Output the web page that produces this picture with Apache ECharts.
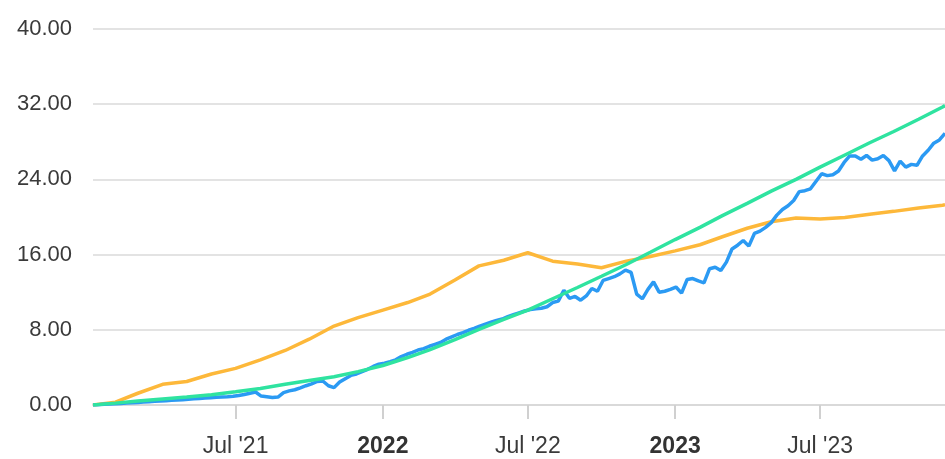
<!DOCTYPE html>
<html>
<head>
<meta charset="utf-8">
<script src="https://cdn.jsdelivr.net/npm/echarts@6/dist/echarts.min.js"></script>
<style>
  html, body { margin: 0; padding: 0; background: #fff; }
  #chart { width: 945px; height: 459px; }
</style>
</head>
<body>
<div id="chart"></div>
<script>
// Monthly observation dates for the two smooth series
const monthDates = [
  '2021-01-04', '2021-02-01', '2021-03-01', '2021-04-01', '2021-05-01', '2021-06-01',
  '2021-07-01', '2021-08-01', '2021-09-01', '2021-10-01', '2021-11-01', '2021-12-01',
  '2022-01-01', '2022-02-01', '2022-03-01', '2022-04-01', '2022-05-01', '2022-06-01',
  '2022-07-01', '2022-08-01', '2022-09-01', '2022-10-01', '2022-11-01', '2022-12-01',
  '2023-01-01', '2023-02-01', '2023-03-01', '2023-04-01', '2023-05-01', '2023-06-01',
  '2023-07-01', '2023-08-01', '2023-09-01', '2023-10-01', '2023-11-01', '2023-12-01',
  '2023-12-04'
];

// Orange series (monthly)
const orangeValues = [
  0.00, 0.30, 1.25, 2.20, 2.50, 3.30,
  3.90, 4.80, 5.80, 7.00, 8.40, 9.30,
  10.10, 10.90, 11.80, 13.30, 14.80, 15.40,
  16.20, 15.30, 15.00, 14.60, 15.30, 15.80,
  16.40, 17.05, 17.90, 18.80, 19.50, 19.90,
  19.80, 19.95, 20.30, 20.60, 20.95, 21.25,
  21.30
];

// Green series (monthly)
const greenValues = [
  0.00, 0.20, 0.42, 0.64, 0.85, 1.10,
  1.40, 1.75, 2.20, 2.60, 3.00, 3.55,
  4.20, 5.05, 5.90, 6.95, 8.05, 9.10,
  10.10, 11.30, 12.50, 13.70, 14.95, 16.25,
  17.60, 18.90, 20.15, 21.45, 22.75, 24.00,
  25.30, 26.60, 27.90, 29.10, 30.40, 31.70,
  31.85
];

// Blue series: weekly closes starting Monday 2021-01-04
const blueStart = [2021, 0, 4];
const blueWeekly = [
  0.00, 0.03, 0.07, 0.10, 0.14, 0.16, 0.20, 0.23, 0.27, 0.31,
  0.34, 0.39, 0.42, 0.46, 0.50, 0.53, 0.57, 0.62, 0.66, 0.70,
  0.74, 0.78, 0.82, 0.86, 0.89, 0.93, 1.02, 1.12, 1.25, 1.38,
  0.95, 0.88, 0.80, 0.85, 1.32, 1.50, 1.62, 1.83, 2.05, 2.25,
  2.50, 2.55, 2.05, 1.85, 2.45, 2.80, 3.15, 3.30, 3.55, 3.80,
  4.10, 4.35, 4.45, 4.60, 4.80, 5.15, 5.40, 5.60, 5.85, 6.00,
  6.25, 6.45, 6.65, 7.00, 7.25, 7.50, 7.70, 7.95, 8.15, 8.40,
  8.60, 8.80, 9.00, 9.15, 9.40, 9.60, 9.80, 10.00, 10.15, 10.25,
  10.30, 10.45, 10.90, 11.05, 12.20, 11.35, 11.55, 11.15, 11.60, 12.40,
  12.10, 13.25, 13.45, 13.65, 13.95, 14.35, 14.10, 11.80, 11.30, 12.30,
  13.10, 12.00, 12.10, 12.30, 12.55, 11.90, 13.35, 13.45, 13.20, 13.00,
  14.50, 14.65, 14.30, 15.20, 16.60, 17.00, 17.50, 16.90, 18.25, 18.50,
  18.90, 19.40, 20.20, 20.80, 21.20, 21.75, 22.70, 22.80, 23.00, 23.80,
  24.60, 24.40, 24.50, 24.90, 25.80, 26.50, 26.50, 26.15, 26.55, 26.05,
  26.20, 26.55, 26.00, 24.90, 25.95, 25.30, 25.60, 25.50, 26.50, 27.10,
  27.85, 28.20, 28.90
];

// Axis ticks and labels
const yTicks = [0, 8, 16, 24, 32, 40];
const xTickDates = ['2021-07-01', '2022-01-01', '2022-07-01', '2023-01-01', '2023-07-01'];
const xTickLabels = ["Jul '21", '2022', "Jul '22", '2023', "Jul '23"];
const xRange = ['2021-01-04', '2023-12-04'];

const colors = { orange: '#fdb83a', blue: '#2b9af3', green: '#2fe3a0' };

function toTime(s) {
  const p = s.split('-').map(Number);
  return new Date(p[0], p[1] - 1, p[2]).getTime();
}

const monthTimes = monthDates.map(toTime);
const orangeData = monthTimes.map((t, i) => [t, orangeValues[i]]);
const greenData = monthTimes.map((t, i) => [t, greenValues[i]]);
const blueData = blueWeekly.map((v, k) => [
  new Date(blueStart[0], blueStart[1], blueStart[2] + 7 * k).getTime(), v
]);

const tickTimes = xTickDates.map(toTime);
const labelByTime = {};
tickTimes.forEach((t, i) => { labelByTime[t] = xTickLabels[i]; });

const font = 'Liberation Sans, Arial, Helvetica, sans-serif';

const chart = echarts.init(document.getElementById('chart'), null, { renderer: 'canvas' });
chart.setOption({
  animation: false,
  backgroundColor: '#ffffff',
  grid: { left: 93, right: 0, top: 29, bottom: 54, containLabel: false },
  xAxis: {
    // timestamps on a linear axis so the ticks can be placed at chosen dates
    type: 'value',
    min: toTime(xRange[0]),
    max: toTime(xRange[1]),
    axisLine: { show: true, lineStyle: { color: '#d9d9d9', width: 2 } },
    axisTick: {
      show: true, length: 14, customValues: tickTimes,
      lineStyle: { color: '#d0d0d0', width: 2 }
    },
    axisLabel: {
      show: true,
      customValues: tickTimes,
      margin: 30,
      fontFamily: font,
      fontSize: 23,
      color: '#3a3a3a',
      formatter: function (v) {
        const s = labelByTime[v] || '';
        return /^\d{4}$/.test(s) ? '{b|' + s + '}' : s;
      },
      rich: {
        b: { fontFamily: font, fontSize: 23, fontWeight: 'bold', color: '#333' }
      }
    },
    splitLine: { show: false }
  },
  yAxis: {
    type: 'value',
    min: yTicks[0],
    max: yTicks[yTicks.length - 1],
    interval: yTicks[1] - yTicks[0],
    axisLine: { show: false },
    axisTick: { show: false },
    axisLabel: {
      margin: 21,
      fontFamily: font,
      fontSize: 22,
      color: '#3a3a3a',
      padding: [0, 0, 8, 0],
      formatter: v => v.toFixed(2)
    },
    splitLine: { show: true, lineStyle: { color: '#e3e3e3', width: 2 } }
  },
  series: [
    {
      name: 'orange', type: 'line', data: orangeData, showSymbol: false,
      lineStyle: { color: colors.orange, width: 3.5 }, itemStyle: { color: colors.orange }, z: 2
    },
    {
      name: 'blue', type: 'line', data: blueData, showSymbol: false,
      lineStyle: { color: colors.blue, width: 3.5 }, itemStyle: { color: colors.blue }, z: 3
    },
    {
      name: 'green', type: 'line', data: greenData, showSymbol: false,
      lineStyle: { color: colors.green, width: 3.5 }, itemStyle: { color: colors.green }, z: 4
    }
  ]
});
</script>
</body>
</html>
